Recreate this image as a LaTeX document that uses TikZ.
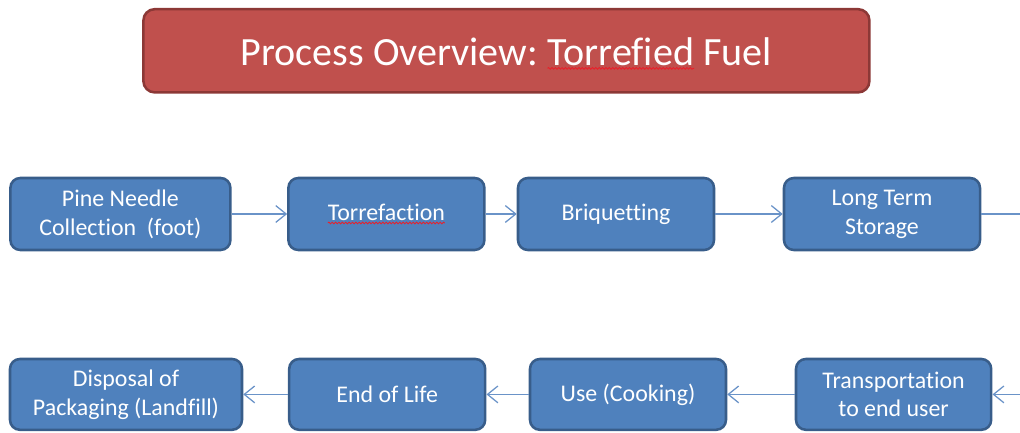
\documentclass[tikz,border=0pt]{standalone}
\usepackage{fontspec}
\setmainfont[Ligatures=NoCommon]{Carlito}
\usepackage{xcolor}
\usepackage{tikz}
\usetikzlibrary{arrows.meta,positioning,decorations.pathmorphing}
\frenchspacing
\definecolor{bluex}{HTML}{4F81BD}
\definecolor{blueedge}{HTML}{385D8A}
\definecolor{redx}{HTML}{C0504D}
\definecolor{rededge}{HTML}{8C3836}
\definecolor{linex}{HTML}{6A93C8}
\definecolor{spellred}{HTML}{E8202A}
% red wavy spell-check line under a word
\newcommand\spellwave[1]{\tikz[baseline=(w.base)]{%
  \node[draw=none,fill=none,inner sep=0pt,outer sep=0pt,minimum size=0pt,
    text height=,text depth=,rounded corners=0pt] (w) {#1};
  \draw[spellred,line width=0.6pt,rounded corners=0pt,decorate,
    decoration={snake,amplitude=0.6pt,segment length=2.4pt}]
    ([yshift=-2pt]w.base west) -- ([yshift=-2pt]w.base east);}}
\tikzset{
  ar/.style={-{Straight Barb[length=2.6mm,width=4.2mm]},line width=0.9pt,linex},
  ln/.style={line width=0.9pt,linex},
  box/.style={draw=blueedge,line width=1.8pt,rounded corners=7pt,fill=bluex,text=white,
    align=center,minimum height=1.8cm,minimum width=4.9cm,inner sep=2pt,
    font=\fontsize{17}{20.5}\selectfont},
  titlebox/.style={draw=rededge,line width=1.8pt,rounded corners=8pt,fill=redx,text=white,
    minimum width=18.15cm,minimum height=2.08cm,text height=27pt,text depth=6pt,
    font=\fontsize{28.5}{32}\selectfont}
}
\begin{document}
\begin{tikzpicture}
\useasboundingbox (0,0) rectangle (25.5,10.8);
\node[titlebox] (title) at (12.66,9.53) {Process Overview: \spellwave{Torrefied} Fuel};
% first row
\node[box,minimum width=5.5cm] (pine) at (3.01,5.45) {Pine Needle\\Collection\ \ (foot)};
\node[box] (torr) at (9.66,5.45) {\spellwave{Torrefaction}};
\node[box] (briq) at (15.4,5.45) {Briquetting};
\node[box] (store) at (22.05,5.45) {Long Term\\Storage};
\coordinate (out1) at (25.5,5.45);
% second row
\node[box,minimum width=5.8cm,minimum height=1.77cm] (disp) at (3.15,0.94) {Disposal of\\Packaging (Landfill)};
\node[box,minimum height=1.77cm] (eol) at (9.68,0.94) {End of Life};
\node[box,minimum height=1.77cm] (use) at (15.7,0.94) {Use (Cooking)};
\node[box,minimum width=4.88cm,minimum height=1.77cm] (trans) at (22.34,0.94) {Transportation\\to end user};
\coordinate (in2) at (25.5,0.94);
\draw[ar] (pine) -- (torr);
\draw[ar] (torr) -- (briq);
\draw[ar] (briq) -- (store);
\draw[ln] (store) -- (out1);
\draw[ar] (in2) -- (trans);
\draw[ar] (trans) -- (use);
\draw[ar] (use) -- (eol);
\draw[ar] (eol) -- (disp);
\end{tikzpicture}
\end{document}
